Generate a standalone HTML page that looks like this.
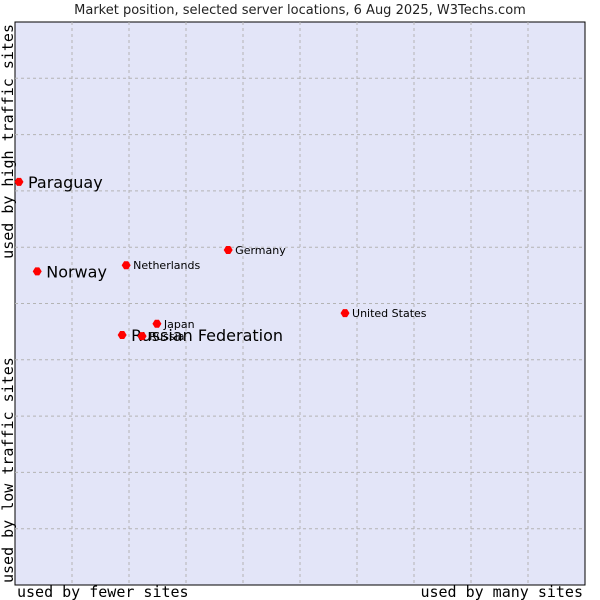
<!DOCTYPE html>
<html><head><meta charset="utf-8"><style>
html,body{margin:0;padding:0;background:#fff;width:600px;height:600px;overflow:hidden}
svg text{font-family:"DejaVu Sans","Liberation Sans",sans-serif}
.mono{font-family:"DejaVu Sans Mono","Liberation Mono",monospace}
</style></head><body>
<svg id="chart" width="600" height="600">
<text x="300" y="14" text-anchor="middle" font-size="13" fill="#222">Market position, selected server locations, 6 Aug 2025, W3Techs.com</text>
<rect x="15" y="22" width="570" height="563" fill="#e3e5f8" stroke="#000" stroke-width="1"/>
<g id="grid"></g>
<g id="points"></g>
<text class="mono" x="17" y="597" font-size="15" fill="#000">used by fewer sites</text>
<text class="mono" x="583" y="597" text-anchor="end" font-size="15" fill="#000">used by many sites</text>
<text class="mono" transform="translate(13,583) rotate(-90)" font-size="15" fill="#000">used by low traffic sites</text>
<text class="mono" transform="translate(13,24) rotate(-90)" text-anchor="end" font-size="15" fill="#000">used by high traffic sites</text>
</svg>
<script>
const names=["Paraguay","Norway","Russian Federation","Netherlands","Germany","United States","Japan","Russia"];
const xVals=[0.07,0.39,1.88,1.95,3.74,5.79,2.49,2.23];
const yVals=[7.16,5.57,4.44,5.68,5.95,4.83,4.64,4.42];
const highlight=[1,1,1,0,0,0,0,0];
const ns="http://www.w3.org/2000/svg";
const X=v=>15+v*57, Y=v=>22+(10-v)*56.3;
const grid=document.getElementById('grid');
for(let i=1;i<10;i++){
  let l=document.createElementNS(ns,'line');
  
  
  l.setAttribute('x1',X(i));l.setAttribute('x2',X(i));l.setAttribute('y1',22);l.setAttribute('y2',585);
  l.setAttribute('stroke','#b4b4b4');l.setAttribute('stroke-dasharray','3,3');grid.appendChild(l);
  let h=document.createElementNS(ns,'line');
  
  
  h.setAttribute('y1',Y(i));h.setAttribute('y2',Y(i));h.setAttribute('x1',15);h.setAttribute('x2',585);
  h.setAttribute('stroke','#b4b4b4');h.setAttribute('stroke-dasharray','3,3');grid.appendChild(h);
}
const pts=document.getElementById('points');
names.forEach((n,i)=>{
  const cx=X(xVals[i]),cy=Y(yVals[i]);
  let c=document.createElementNS(ns,'path');
  
  
  c.setAttribute('d',`M${cx-4.5},${cy} L${cx-2},${cy-4} L${cx+2},${cy-4} L${cx+4.5},${cy} L${cx+2},${cy+4} L${cx-2},${cy+4}Z`);
  c.setAttribute('fill','#ff0000');pts.appendChild(c);
  let t=document.createElementNS(ns,'text');
  
  
  t.setAttribute('x',cx+(highlight[i]?9:7));t.setAttribute('y',cy+(highlight[i]?6:4));
  t.setAttribute('font-size',highlight[i]?16:11);t.setAttribute('fill','#000');
  t.textContent=n;pts.appendChild(t);
});
</script>
</body></html>
